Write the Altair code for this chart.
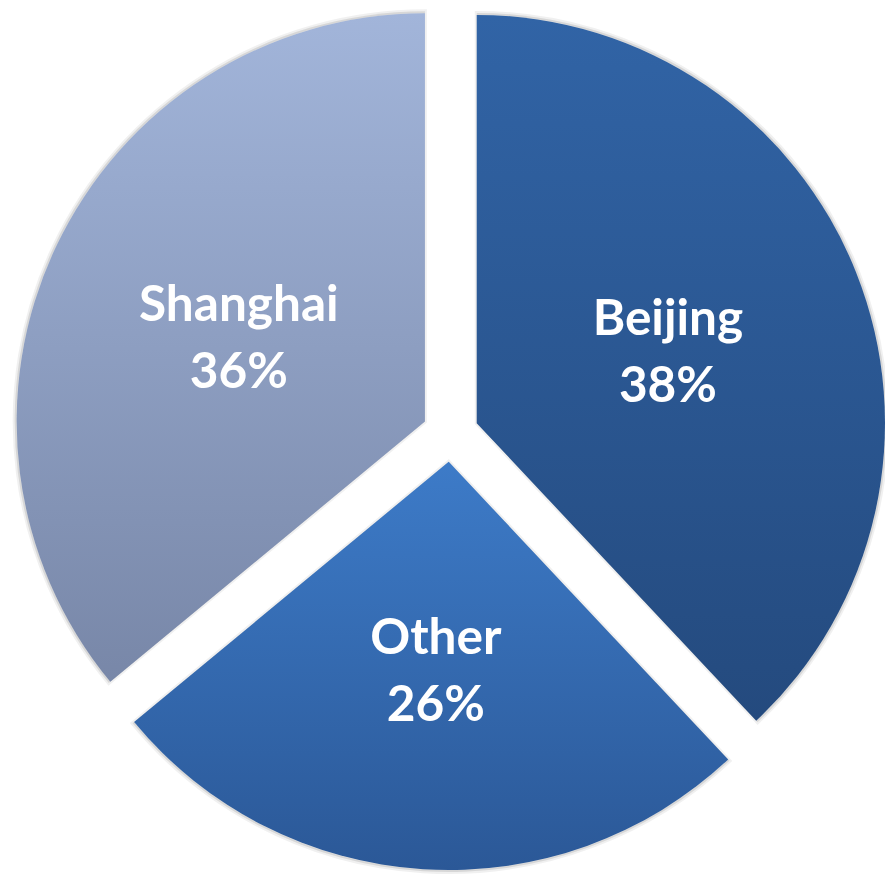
import altair as alt
import pandas as pd

# Data (clockwise from 12 o'clock)
categories = ["Beijing", "Other", "Shanghai"]
shares = [38, 26, 36]
order = [1, 2, 3]

# Gradient colours per slice (top, bottom)
top_colors = {"Beijing": "#3164A6", "Other": "#3D7BC8", "Shanghai": "#A2B5DA"}
bottom_colors = {"Beijing": "#244A7E", "Other": "#2B5897", "Shanghai": "#7887A8"}

# Layout constants
CX, CY = 446.5, 425.5   # pie centre in chart coordinates
R = 412                 # pie radius
EXPLODE = 28.5          # explode offset of each slice
LABEL_R = 236           # label distance from centre

df = pd.DataFrame({"category": categories, "share": shares, "order": order})

base = alt.Chart(df).transform_window(
    cum="sum(share)", sort=[alt.SortField("order")], frame=[None, 0]
).transform_calculate(
    start="datum.cum - datum.share",
    end="datum.cum",
    mid="(datum.cum - datum.share / 2) / 100 * 2 * PI",
).transform_calculate(
    px=f"{CX} + {EXPLODE} * sin(datum.mid)",
    py=f"{CY} - {EXPLODE} * cos(datum.mid)",
    lx=f"{CX} + {LABEL_R} * sin(datum.mid)",
    ly=f"{CY} - {LABEL_R} * cos(datum.mid)",
    label="datum.category + '\\n' + datum.share + '%'",
)

theta_scale = alt.Scale(domain=[0, 100], range=[0, 6.283185307179586])

layers = []
for cat in categories:
    grad = alt.LinearGradient(
        gradient="linear",
        stops=[
            alt.GradientStop(color=top_colors[cat], offset=0),
            alt.GradientStop(color=bottom_colors[cat], offset=1),
        ],
        x1=0, x2=0, y1=0, y2=1,
    )
    # soft shadow
    shadow = base.transform_filter(alt.datum.category == cat).mark_arc(
        radius=R + 2, fill="#000000", fillOpacity=0.10, stroke="#000000",
        strokeOpacity=0.06, strokeWidth=4
    ).encode(
        theta=alt.Theta("start:Q", scale=theta_scale),
        theta2="end:Q",
        x=alt.X("px:Q", scale=None, axis=None),
        y=alt.Y("py:Q", scale=None, axis=None),
    )
    arc = base.transform_filter(alt.datum.category == cat).mark_arc(
        radius=R, fill=grad
    ).encode(
        theta=alt.Theta("start:Q", scale=theta_scale),
        theta2="end:Q",
        x=alt.X("px:Q", scale=None, axis=None),
        y=alt.Y("py:Q", scale=None, axis=None),
    )
    layers.extend([shadow, arc])

text = base.mark_text(
    font="Lato", fontWeight="bold", fontSize=50, color="white",
    lineBreak="\n", lineHeight=68, align="center", baseline="middle", dy=-28
).encode(
    x=alt.X("lx:Q", scale=None, axis=None),
    y=alt.Y("ly:Q", scale=None, axis=None),
    text="label:N",
)

chart = alt.layer(*layers, text).properties(
    width=885, height=869, padding=0,
    autosize=alt.AutoSizeParams(type="none"),
).configure_view(stroke=None)

chart.save("out.html", embed_options={"renderer": "svg", "actions": False})
